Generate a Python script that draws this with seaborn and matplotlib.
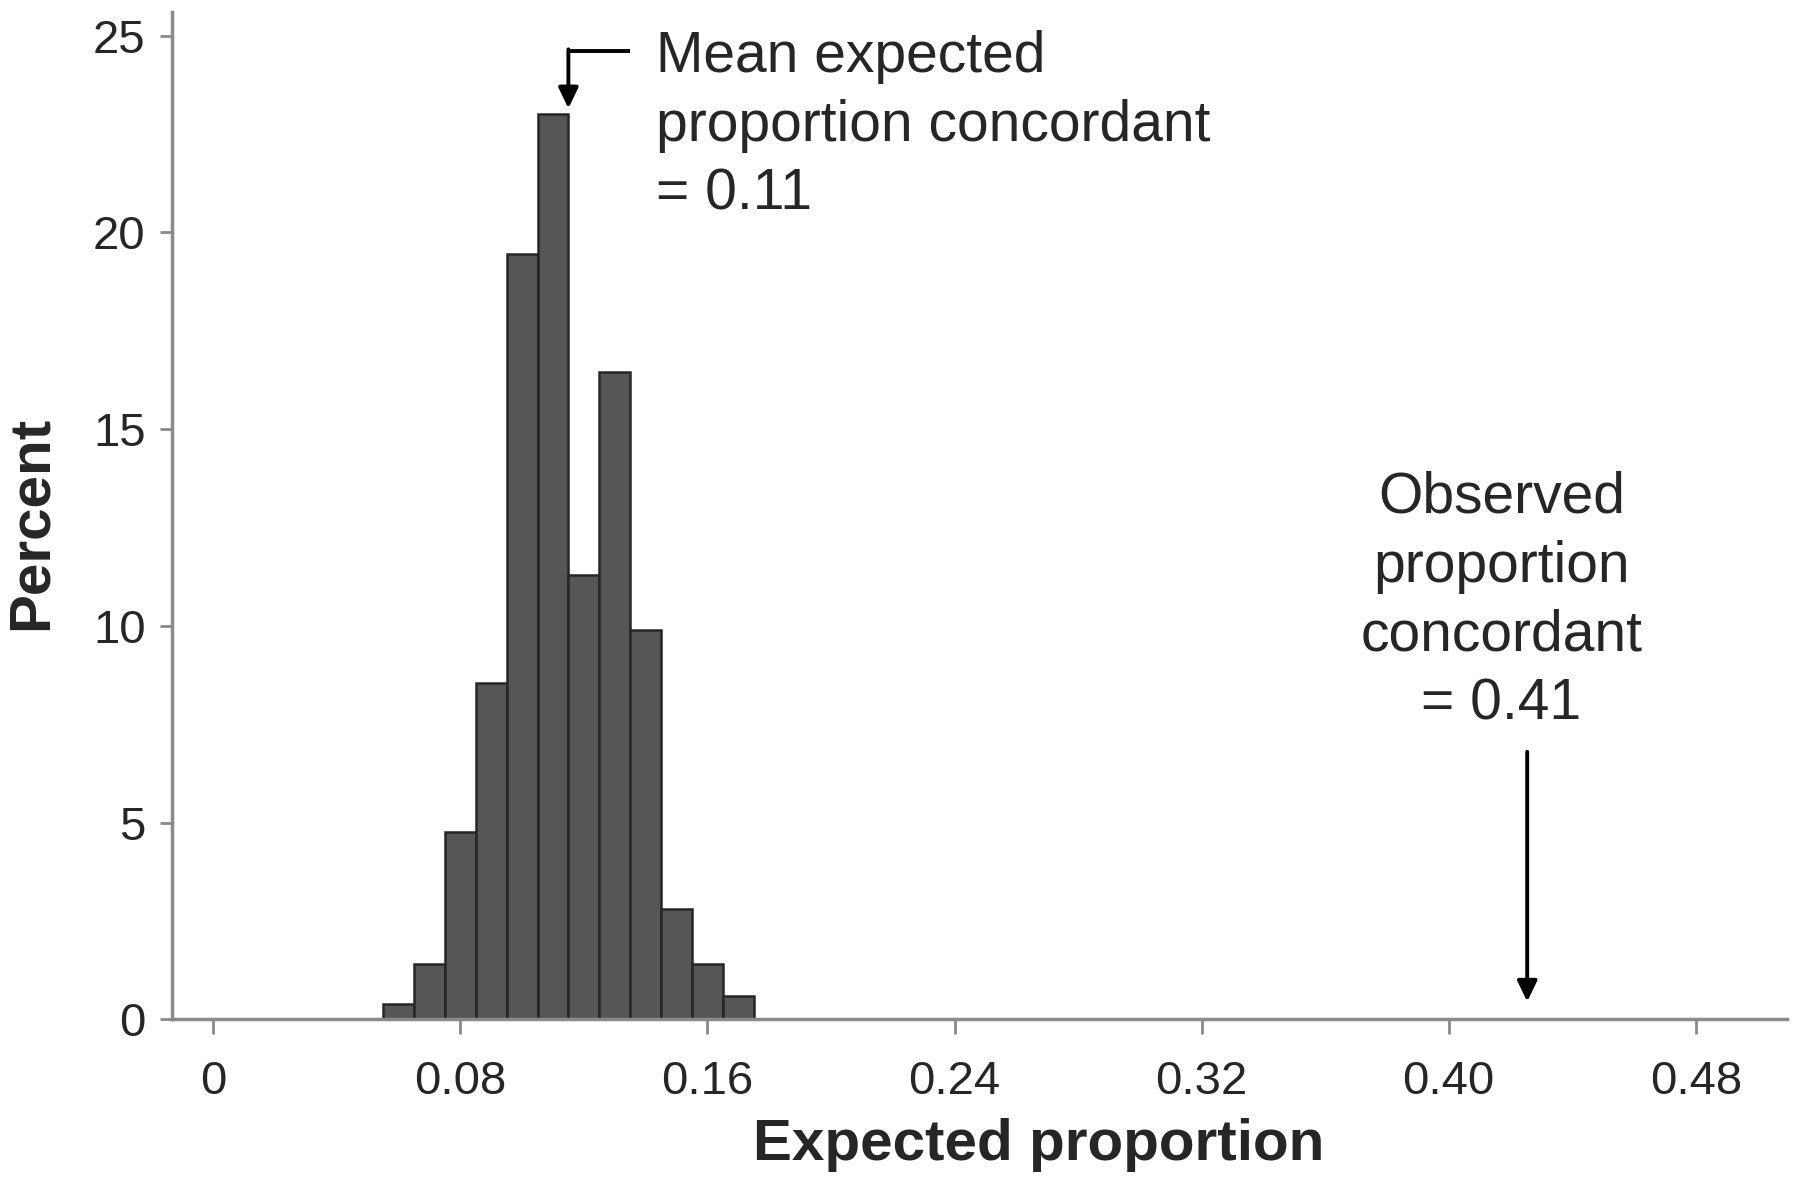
import numpy as np
import pandas as pd
import matplotlib
matplotlib.use("Agg")
import matplotlib.pyplot as plt
import seaborn as sns


# histogram of expected proportions, bin width 0.01
BIN_CENTERS = [0.06, 0.07, 0.08, 0.09, 0.10, 0.11, 0.12, 0.13, 0.14, 0.15, 0.16, 0.17]
PERCENTS = [0.4, 1.4, 4.75, 8.55, 19.45, 23.0, 11.3, 16.45, 9.9, 2.8, 1.4, 0.6]
BIN_WIDTH = 0.01

X_TICKS = [0, 0.08, 0.16, 0.24, 0.32, 0.40, 0.48]
X_TICK_LABELS = ["0", "0.08", "0.16", "0.24", "0.32", "0.40", "0.48"]
Y_TICKS = [0, 5, 10, 15, 20, 25]

MEAN_TEXT = "Mean expected\nproportion concordant\n= 0.11"
OBS_TEXT = "Observed\nproportion\nconcordant\n= 0.41"


def main():
    sns.set_style("ticks")
    plt.rcParams['font.family'] = ['Liberation Sans', 'DejaVu Sans']

    df = pd.DataFrame({"expected": BIN_CENTERS, "percent": PERCENTS})

    fig = plt.figure(figsize=(18, 11.95), dpi=100)
    ax = fig.add_axes([0.0956, 0.147, 0.897, 0.843])

    sns.histplot(data=df, x="expected", weights="percent", binwidth=BIN_WIDTH,
                 binrange=(BIN_CENTERS[0] - BIN_WIDTH / 2, BIN_CENTERS[-1] + BIN_WIDTH / 2),
                 color="#565656", edgecolor="#262626", linewidth=1.8, alpha=1, ax=ax)

    ax.set_xlim(-0.0133, 0.5094)
    ax.set_ylim(0, 25.6)
    ax.set_xticks(X_TICKS)
    ax.set_xticklabels(X_TICK_LABELS)
    ax.set_yticks(Y_TICKS)

    for side in ["top", "right"]:
        ax.spines[side].set_visible(False)
    for side in ["left", "bottom"]:
        ax.spines[side].set_color("#8a8a8a")
        ax.spines[side].set_linewidth(2.5)

    ax.tick_params(axis="x", length=11, width=2, color="#8a8a8a", pad=18, labelsize=34)
    ax.tick_params(axis="y", length=9, width=2, color="#8a8a8a", pad=10, labelsize=34)

    ax.set_xlabel("Expected proportion", fontsize=42, fontweight="bold")
    ax.xaxis.set_label_coords(0.537, -0.098)
    ax.set_ylabel("Percent", fontsize=42, fontweight="bold")
    ax.yaxis.set_label_coords(-0.07, 0.493)

    head = "-|>,head_length=1.25,head_width=0.6"

    # mean annotation: elbow arrow down onto the tallest bar
    ax.plot([0.135, 0.115], [24.6, 24.6], color="black", linewidth=2.8, solid_capstyle="butt")
    ax.annotate("", xy=(0.115, 23.15), xytext=(0.115, 24.65),
                arrowprops=dict(arrowstyle=head, color="black", linewidth=2.8,
                                shrinkA=0, shrinkB=0))
    ax.text(0.1433, 25.15, MEAN_TEXT, fontsize=41, va="top", ha="left", linespacing=1.36)

    # observed value annotation
    ax.text(0.417, 13.95, OBS_TEXT, fontsize=41, va="top", ha="center",
            multialignment="center", linespacing=1.36)
    ax.annotate("", xy=(0.4254, 0.45), xytext=(0.4254, 6.8),
                arrowprops=dict(arrowstyle=head, color="black", linewidth=2.8,
                                shrinkA=0, shrinkB=0))

    fig.savefig("out.png", dpi=100, facecolor="white")
    plt.close(fig)


if __name__ == '__main__':
    main()
